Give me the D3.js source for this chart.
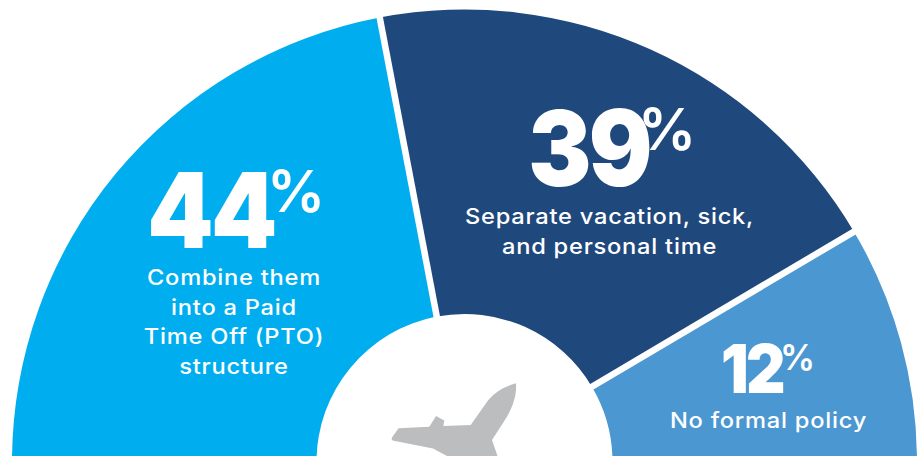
<!DOCTYPE html>
<html>
<head>
<meta charset="utf-8">
<style>
  html, body { margin: 0; padding: 0; background: #fff; }
  svg { display: block; }
  text { font-family: Inter, "Open Sans", sans-serif; fill: #fff; }
</style>
<script src="https://cdn.jsdelivr.net/npm/d3@7/dist/d3.min.js"></script>
</head>
<body>
<svg id="chart" width="922" height="456"></svg>
<script>
// PTO policy shares, read clockwise around the half ring
const categories = ["Combine", "Separate", "None"];
const shares = [44, 39, 12];
const unlabelledShare = 5; // remainder of the half ring, same colour as the last slice
const sliceColors = ["#00AEEF", "#1F487C", "#4B97D2"];
const captions = [
  ["Combine them", "into a Paid", "Time Off (PTO)", "structure"],
  ["Separate vacation, sick,", "and personal time"],
  ["No formal policy"]
];

const width = 922, height = 456;
const cx = 464.5, cy = 462, outerR = 452.5, innerR = 148;
const gap = 6.5;

const svg = d3.select("#chart");
const ring = svg.append("g").attr("transform", `translate(${cx},${cy})`);

const pie = d3.pie().sort(null).startAngle(-Math.PI / 2).endAngle(Math.PI / 2);
const slices = pie(shares.concat(unlabelledShare));
// the remainder merges into the last labelled slice
const merged = slices.slice(0, 3).map((s, i) =>
  i === 2 ? { ...s, endAngle: slices[3].endAngle } : s);

const arc = d3.arc().innerRadius(innerR).outerRadius(outerR);
ring.selectAll("path.slice")
  .data(merged)
  .join("path")
  .attr("class", "slice")
  .attr("d", arc)
  .attr("fill", (d, i) => sliceColors[i]);

// white separators between neighbouring slices
ring.selectAll("line.sep")
  .data(merged.slice(0, 2))
  .join("line")
  .attr("class", "sep")
  .attr("x1", d => Math.sin(d.endAngle) * (innerR - 4))
  .attr("y1", d => -Math.cos(d.endAngle) * (innerR - 4))
  .attr("x2", d => Math.sin(d.endAngle) * (outerR + 6))
  .attr("y2", d => -Math.cos(d.endAngle) * (outerR + 6))
  .attr("stroke", "#fff")
  .attr("stroke-width", gap);

// aircraft icon in the hub
svg.append("path")
  .attr("fill", "#BCBDBF")
  .attr("d", "M516,383.3 C517,396 512,410 503,423 L492,440 L497.5,456 L447,456 L433,448.5 L395,441 " +
    "Q390.5,440 392,437.5 L398.5,428.3 L429.3,426.7 L436,416 L444.3,420.5 L443.3,426 L470.7,425 " +
    "L488.3,400 Q498,388 516,383.3 Z");

// value labels and captions; Inter is widened or narrowed horizontally for the display look
const labelLayout = [
  { x: 211, y: 248, size: 105, pctX: 267, pctY: 212, pctSize: 58, capX: 234, capY: 285 },
  { x: 589, y: 186, size: 105, pctX: 638, pctY: 150, pctSize: 58, capX: 609.5, capY: 224 },
  { x: 752, y: 393, size: 68, pctX: 780, pctY: 370, pctSize: 35, capX: 768.5, capY: 428 }
];
const capStep = 29.5, capSize = 21.5;
const digitStretch = 0.9, capStretch = 1.1;

labelLayout.forEach((p, i) => {
  const g = svg.append("g");
  g.append("text")
    .attr("transform", `translate(${p.x},${p.y}) scale(${digitStretch},1)`)
    .attr("text-anchor", "middle")
    .attr("font-size", p.size).attr("font-weight", 900)
    .attr("letter-spacing", -3)
    .text(shares[i]);
  g.append("text")
    .attr("x", p.pctX).attr("y", p.pctY)
    .attr("font-size", p.pctSize).attr("font-weight", 600)
    .text("%");
  g.selectAll("text.caption")
    .data(captions[i])
    .join("text")
    .attr("class", "caption")
    .attr("transform", (d, k) => `translate(${p.capX},${p.capY + k * capStep}) scale(${capStretch},1)`)
    .attr("text-anchor", "middle")
    .attr("font-size", capSize).attr("font-weight", 500)
    .attr("letter-spacing", 0.7)
    .text(d => d);
});
</script>
</body>
</html>
